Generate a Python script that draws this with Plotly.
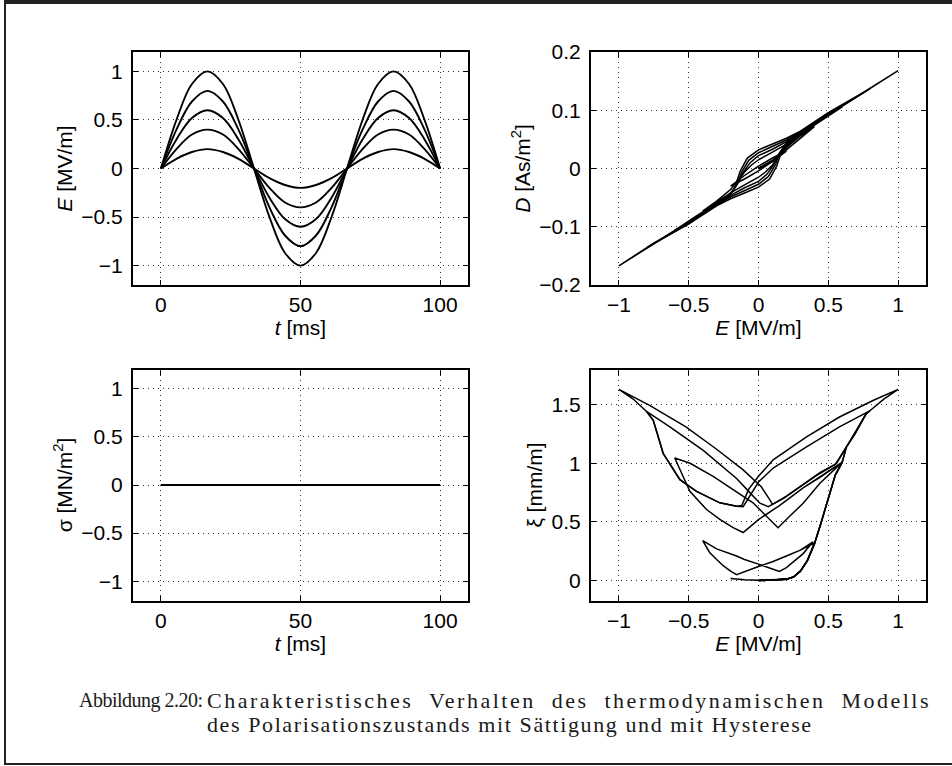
import plotly.graph_objects as go

# ---------------- data ----------------
# top-left: E(t) for five amplitudes
t_ms = [0, 5.56, 11.11, 16.67, 22.22, 27.78, 33.33, 38.89, 44.44, 50,
        55.56, 61.11, 66.67, 72.22, 77.78, 83.33, 88.89, 94.44, 100]
E_t_10 = [0, 0.5, 0.87, 1.0, 0.87, 0.5, 0, -0.5, -0.87, -1.0, -0.87, -0.5, 0, 0.5, 0.87, 1.0, 0.87, 0.5, 0]
E_t_08 = [0, 0.4, 0.69, 0.8, 0.69, 0.4, 0, -0.4, -0.69, -0.8, -0.69, -0.4, 0, 0.4, 0.69, 0.8, 0.69, 0.4, 0]
E_t_06 = [0, 0.3, 0.52, 0.6, 0.52, 0.3, 0, -0.3, -0.52, -0.6, -0.52, -0.3, 0, 0.3, 0.52, 0.6, 0.52, 0.3, 0]
E_t_04 = [0, 0.2, 0.35, 0.4, 0.35, 0.2, 0, -0.2, -0.35, -0.4, -0.35, -0.2, 0, 0.2, 0.35, 0.4, 0.35, 0.2, 0]
E_t_02 = [0, 0.1, 0.17, 0.2, 0.17, 0.1, 0, -0.1, -0.17, -0.2, -0.17, -0.1, 0, 0.1, 0.17, 0.2, 0.17, 0.1, 0]

# bottom-left: stress sigma(t)
sigma_t = [0, 100]
sigma_val = [0, 0]

# top-right: D(E) loops
DE_E_10 = [0, 0.1, 0.2, 0.3, 0.5, 0.75, 1.0,
           0.75, 0.5, 0.3, 0.2, 0.1, 0, -0.08, -0.13, -0.17, -0.22, -0.3, -0.5, -0.75, -1.0,
           -0.75, -0.5, -0.3, -0.2, -0.1, 0, 0.08, 0.13, 0.17, 0.22, 0.3, 0.5, 0.75, 1.0,
           0.75, 0.5, 0.3, 0.2, 0.1, 0]
DE_D_10 = [0, 0.012, 0.038, 0.062, 0.093, 0.13, 0.168,
           0.13, 0.096, 0.064, 0.052, 0.042, 0.032, 0.018, -0.004, -0.032, -0.05, -0.062, -0.092, -0.13, -0.167,
           -0.128, -0.095, -0.064, -0.052, -0.042, -0.032, -0.018, 0.004, 0.032, 0.05, 0.062, 0.092, 0.13, 0.168,
           0.13, 0.096, 0.064, 0.052, 0.042, 0.032]
DE_E_08 = [0, 0.1, 0.2, 0.3, 0.5, 0.8,
           0.5, 0.3, 0.2, 0.1, 0, -0.07, -0.12, -0.16, -0.21, -0.3, -0.5, -0.8,
           -0.5, -0.3, -0.2, -0.1, 0, 0.07, 0.12, 0.16, 0.21, 0.3, 0.5, 0.8,
           0.5, 0.3, 0.2, 0.1, 0]
DE_D_08 = [0, 0.012, 0.038, 0.062, 0.093, 0.137,
           0.095, 0.063, 0.049, 0.038, 0.027, 0.014, -0.006, -0.03, -0.047, -0.062, -0.092, -0.136,
           -0.095, -0.063, -0.049, -0.038, -0.027, -0.014, 0.006, 0.03, 0.047, 0.062, 0.092, 0.137,
           0.095, 0.063, 0.049, 0.038, 0.027]
DE_E_06 = [0, 0.1, 0.2, 0.3, 0.45, 0.6,
           0.4, 0.2, 0.1, 0, -0.06, -0.11, -0.15, -0.2, -0.3, -0.45, -0.6,
           -0.4, -0.2, -0.1, 0, 0.06, 0.11, 0.15, 0.2, 0.3, 0.45, 0.6,
           0.4, 0.2, 0.1, 0]
DE_D_06 = [0, 0.012, 0.036, 0.058, 0.082, 0.106,
           0.078, 0.046, 0.033, 0.022, 0.01, -0.007, -0.027, -0.043, -0.06, -0.082, -0.106,
           -0.078, -0.046, -0.033, -0.022, -0.01, 0.007, 0.027, 0.043, 0.06, 0.082, 0.106,
           0.078, 0.046, 0.033, 0.022]
DE_E_04 = [0, 0.1, 0.2, 0.3, 0.4,
           0.3, 0.2, 0.1, 0, -0.05, -0.1, -0.15, -0.2, -0.3, -0.4,
           -0.3, -0.2, -0.1, 0, 0.05, 0.1, 0.15, 0.2, 0.3, 0.4,
           0.3, 0.2, 0.1, 0]
DE_D_04 = [0, 0.014, 0.032, 0.052, 0.072,
           0.058, 0.042, 0.028, 0.015, 0.006, -0.006, -0.022, -0.036, -0.056, -0.073,
           -0.058, -0.042, -0.028, -0.015, -0.006, 0.006, 0.022, 0.036, 0.056, 0.072,
           0.058, 0.042, 0.028, 0.015]
DE_E_02 = [0, 0.1, 0.2, 0.1, 0, -0.1, -0.2, -0.1, 0, 0.1, 0.2, 0.1, 0]
DE_D_02 = [0, 0.014, 0.03, 0.018, 0.004, -0.012, -0.03, -0.018, -0.004, 0.012, 0.03, 0.018, 0.004]

# bottom-right: strain xi(E) butterfly loops
XE_E_10 = [0, 0.1, 0.2, 0.25, 0.3, 0.35, 0.4, 0.45, 0.5, 0.55, 0.6, 0.63, 0.69, 0.77, 0.8, 0.9, 1.0,
           0.82, 0.58, 0.344, 0.105, 0, -0.07, -0.1, -0.12,
           -0.157, -0.277, -0.444, -0.563, -0.683, -0.754, -0.8, -0.9, -1.0,
           -0.78, -0.52, -0.3, -0.11, 0.02, 0.08, 0.1,
           0.2, 0.32, 0.44, 0.56, 0.63, 0.69, 0.77, 0.8, 0.9, 1.0,
           0.82, 0.58, 0.344, 0.105, 0]
XE_X_10 = [0, 0.003, 0.012, 0.03, 0.08, 0.17, 0.31, 0.5, 0.7, 0.9, 1.01, 1.14, 1.25, 1.42, 1.45, 1.55, 1.63,
           1.536, 1.395, 1.226, 1.03, 0.89, 0.78, 0.7, 0.64,
           0.634, 0.663, 0.761, 0.86, 1.085, 1.367, 1.44, 1.55, 1.63,
           1.494, 1.311, 1.12, 0.944, 0.8, 0.69, 0.65,
           0.72, 0.82, 0.92, 1.0, 1.14, 1.25, 1.42, 1.45, 1.55, 1.63,
           1.536, 1.395, 1.226, 1.03, 0.89]
XE_E_08 = [0, 0.1, 0.2, 0.25, 0.3, 0.35, 0.4, 0.45, 0.5, 0.55, 0.6, 0.63, 0.69, 0.77, 0.8,
           0.58, 0.344, 0.105, 0, -0.086, -0.11,
           -0.157, -0.277, -0.444, -0.563, -0.683, -0.754, -0.8,
           -0.635, -0.396, -0.157, -0.062, 0.01, 0.07,
           0.18, 0.3, 0.42, 0.55, 0.63, 0.69, 0.77, 0.8,
           0.58, 0.344, 0.105, 0]
XE_X_08 = [0, 0.003, 0.012, 0.03, 0.08, 0.17, 0.31, 0.5, 0.7, 0.9, 1.01, 1.14, 1.25, 1.42, 1.45,
           1.31, 1.14, 0.96, 0.84, 0.68, 0.63,
           0.634, 0.663, 0.761, 0.86, 1.085, 1.367, 1.44,
           1.31, 1.11, 0.87, 0.75, 0.66, 0.63,
           0.7, 0.8, 0.9, 0.99, 1.14, 1.25, 1.42, 1.45,
           1.31, 1.14, 0.96, 0.84]
XE_E_06 = [0, 0.1, 0.2, 0.25, 0.3, 0.35, 0.4, 0.45, 0.5, 0.55, 0.6,
           0.44, 0.32, 0.15, 0, -0.11,
           -0.182, -0.277, -0.372, -0.492, -0.551, -0.6,
           -0.49, -0.325, -0.182, -0.039, 0.057, 0.14,
           0.225, 0.32, 0.44, 0.56, 0.6,
           0.44, 0.32, 0.15, 0]
XE_X_06 = [0, 0.003, 0.012, 0.03, 0.08, 0.17, 0.31, 0.5, 0.7, 0.9, 1.01,
           0.88, 0.79, 0.64, 0.52, 0.41,
           0.451, 0.522, 0.606, 0.761, 0.916, 1.045,
           1.0, 0.888, 0.775, 0.663, 0.549, 0.45,
           0.55, 0.66, 0.83, 0.97, 1.01,
           0.88, 0.79, 0.64, 0.52]
XE_E_04 = [0, 0.1, 0.2, 0.25, 0.3, 0.35, 0.4,
           0.3, 0.2, 0.1, 0, -0.1, -0.157,
           -0.2, -0.253, -0.3, -0.35, -0.4,
           -0.3, -0.157, -0.1, 0, 0.08, 0.15,
           0.2, 0.25, 0.32, 0.39,
           0.3, 0.2, 0.1, 0]
XE_X_04 = [0, 0.003, 0.012, 0.03, 0.08, 0.17, 0.32,
           0.26, 0.21, 0.16, 0.12, 0.075, 0.05,
           0.08, 0.127, 0.18, 0.24, 0.34,
           0.27, 0.21, 0.18, 0.14, 0.11, 0.078,
           0.11, 0.16, 0.23, 0.33,
           0.26, 0.21, 0.16, 0.12]
XE_E_02 = [0, 0.1, 0.2, 0.1, 0, -0.1, -0.2, -0.1, 0, 0.1, 0.2, 0.1, 0]
XE_X_02 = [0, 0.003, 0.012, 0.006, 0.003, 0.006, 0.018, 0.008, 0.003, 0.004, 0.012, 0.006, 0.003]

# tick labels
t_ticks = [0, 50, 100]
t_ticktext = ["0", "50", "100"]
unit_ticks = [-1, -0.5, 0, 0.5, 1]
unit_ticktext = ["\u22121", "\u22120.5", "0", "0.5", "1"]
D_ticks = [-0.2, -0.1, 0, 0.1, 0.2]
D_ticktext = ["\u22120.2", "\u22120.1", "0", "0.1", "0.2"]
xi_ticks = [0, 0.5, 1, 1.5]
xi_ticktext = ["0", "0.5", "1", "1.5"]

caption_label = "Abbildung 2.20:"
caption_line1 = "Charakteristisches Verhalten des thermodynamischen Modells"
caption_line2 = "des Polarisationszustands mit Sättigung und mit Hysterese"

# ---------------- figure ----------------
W, H = 952, 766
fig = go.Figure()

LINE = dict(color="black", width=1.9)
LINE_H = dict(color="black", width=1.5)

for ys in [E_t_10, E_t_08, E_t_06, E_t_04, E_t_02]:
    fig.add_trace(go.Scatter(x=t_ms, y=ys, mode="lines", line=dict(shape="spline", smoothing=1.0, **LINE),
                             xaxis="x", yaxis="y", showlegend=False, hoverinfo="skip"))

for xs, ys in [(DE_E_10, DE_D_10), (DE_E_08, DE_D_08), (DE_E_06, DE_D_06), (DE_E_04, DE_D_04), (DE_E_02, DE_D_02)]:
    fig.add_trace(go.Scatter(x=xs, y=ys, mode="lines", line=LINE_H,
                             xaxis="x2", yaxis="y2", showlegend=False, hoverinfo="skip"))

fig.add_trace(go.Scatter(x=sigma_t, y=sigma_val, mode="lines", line=dict(color="black", width=2.2),
                         xaxis="x3", yaxis="y3", showlegend=False, hoverinfo="skip"))

for xs, ys in [(XE_E_10, XE_X_10), (XE_E_08, XE_X_08), (XE_E_06, XE_X_06), (XE_E_04, XE_X_04), (XE_E_02, XE_X_02)]:
    fig.add_trace(go.Scatter(x=xs, y=ys, mode="lines", line=LINE_H,
                             xaxis="x4", yaxis="y4", showlegend=False, hoverinfo="skip"))

FONT = dict(family="Liberation Sans, Arial, Helvetica", size=21, color="black")


def ax(domain, rng, tv, tt, title, anchor, standoff, lstand):
    return dict(domain=domain, range=rng, tickvals=tv, ticktext=tt, anchor=anchor,
                showline=True, linecolor="black", linewidth=2, mirror="ticks",
                ticks="inside", ticklen=5, tickwidth=1, tickcolor="black",
                showgrid=True, gridcolor="#333333", gridwidth=1, griddash="1px,4px",
                zeroline=False, tickfont=FONT, ticklabelstandoff=lstand,
                title=dict(text=title, font=FONT, standoff=standoff), automargin=False)


def px_x(p):
    return p / W


def px_y(p):
    return 1 - p / H


dx_left = [px_x(133), px_x(468)]
dx_right = [px_x(591), px_x(926)]
dy_top = [px_y(285), px_y(52)]
dy_bot = [px_y(600.5), px_y(369.5)]

fig.update_layout(
    width=W, height=H,
    margin=dict(l=0, r=0, t=0, b=0),
    paper_bgcolor="white", plot_bgcolor="white",
    showlegend=False,
    xaxis=ax(dx_left, [-10, 110], t_ticks, t_ticktext, "<i>t</i> [ms]", "y", 4, 0),
    yaxis=ax(dy_top, [-1.2, 1.2], unit_ticks, unit_ticktext, "<i>E</i> [MV/m]", "x", 3, 4),
    xaxis2=ax(dx_right, [-1.2, 1.2], unit_ticks, unit_ticktext, "<i>E</i> [MV/m]", "y2", 4, 0),
    yaxis2=ax(dy_top, [-0.2, 0.2], D_ticks, D_ticktext, "<i>D</i> [As/m<sup>2</sup>]", "x2", 3, 4),
    xaxis3=ax(dx_left, [-10, 110], t_ticks, t_ticktext, "<i>t</i> [ms]", "y3", 4, 0),
    yaxis3=ax(dy_bot, [-1.2, 1.2], unit_ticks, unit_ticktext, "σ [MN/m<sup>2</sup>]", "x3", 3, 4),
    xaxis4=ax(dx_right, [-1.2, 1.2], unit_ticks, unit_ticktext, "<i>E</i> [MV/m]", "y4", 4, 0),
    yaxis4=ax(dy_bot, [-0.17, 1.8], xi_ticks, xi_ticktext, "ξ [mm/m]", "x4", 3, 4),
)

# outer frame of the figure box
fig.add_shape(type="line", xref="paper", yref="paper", x0=px_x(4), x1=1.02, y0=px_y(2), y1=px_y(2),
              line=dict(color="#222222", width=4))
fig.add_shape(type="line", xref="paper", yref="paper", x0=px_x(5), x1=px_x(5), y0=px_y(1), y1=px_y(765),
              line=dict(color="#222222", width=2))
fig.add_shape(type="line", xref="paper", yref="paper", x0=px_x(4), x1=1.02, y0=px_y(764), y1=px_y(764),
              line=dict(color="#222222", width=2))

CAP_L = dict(family="Liberation Serif, Times New Roman, serif", size=20, color="#1a1a1a")
CAP = dict(family="Liberation Serif, Times New Roman, serif", size=22, color="#1a1a1a")
fig.add_annotation(text='<span style="letter-spacing:-0.5px">' + caption_label + '</span>',
                   xref="paper", yref="paper", x=px_x(77), y=px_y(700),
                   xanchor="left", yanchor="middle", showarrow=False, font=CAP_L)
fig.add_annotation(text='<span style="letter-spacing:2.5px;word-spacing:8px">' + caption_line1 + '</span>',
                   xref="paper", yref="paper", x=px_x(205), y=px_y(700),
                   xanchor="left", yanchor="middle", showarrow=False, font=CAP)
fig.add_annotation(text='<span style="letter-spacing:1.6px">' + caption_line2 + '</span>',
                   xref="paper", yref="paper", x=px_x(205), y=px_y(724),
                   xanchor="left", yanchor="middle", showarrow=False, font=CAP)

fig.write_html("out.html",
               config={"displayModeBar": False},
               post_script="document.body.style.margin='0';document.body.style.overflow='hidden';")
